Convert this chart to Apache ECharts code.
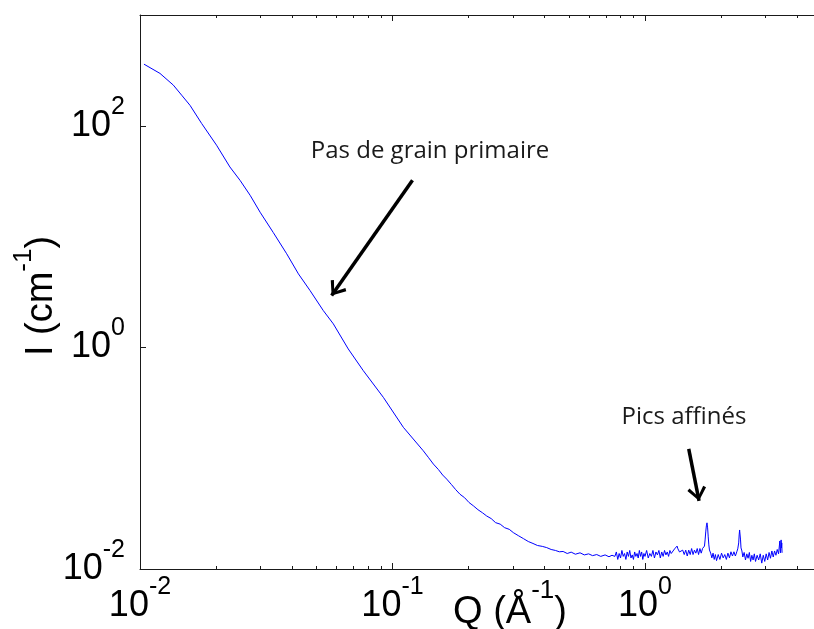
<!DOCTYPE html>
<html><head><meta charset="utf-8">
<script src="https://cdn.jsdelivr.net/npm/echarts@6/dist/echarts.min.js"></script>
<style>html,body{margin:0;padding:0;background:#fff}#c{width:814px;height:629px}</style>
</head><body><div id="c"></div>
<script>
// Q (Å^-1)
const qValues = [
  0.01037, 0.0120, 0.01355, 0.01462, 0.01578, 0.01754, 0.0201, 0.0227, 0.0249, 0.0273,
  0.0299, 0.0337, 0.0381, 0.0424, 0.0471, 0.0532, 0.0583, 0.0668, 0.0766, 0.0920,
  0.1104, 0.1324, 0.139, 0.1452, 0.152, 0.158, 0.164, 0.171, 0.178, 0.185,
  0.193, 0.201, 0.209, 0.218, 0.227, 0.236, 0.246, 0.256, 0.267, 0.278,
  0.290, 0.301, 0.315, 0.330, 0.345, 0.360, 0.375, 0.392, 0.408, 0.425,
  0.442, 0.458, 0.474, 0.492, 0.510, 0.530, 0.553, 0.575, 0.598, 0.620,
  0.644, 0.668, 0.695, 0.72, 0.74,
  0.76, 0.77, 0.78, 0.79, 0.80, 0.81, 0.82, 0.83, 0.84, 0.85,
  0.86, 0.87, 0.88, 0.89, 0.90, 0.91, 0.92, 0.93, 0.94, 0.95,
  0.96, 0.97, 0.98, 0.99, 1.00, 1.015, 1.03, 1.045, 1.06, 1.075,
  1.09, 1.105, 1.12, 1.135, 1.15, 1.165, 1.18, 1.195, 1.21, 1.225,
  1.24, 1.255, 1.27, 1.29, 1.31, 1.33, 1.34, 1.35, 1.37, 1.39,
  1.41, 1.43, 1.45, 1.47, 1.49, 1.51, 1.53, 1.55, 1.57, 1.59,
  1.61, 1.63, 1.65, 1.67, 1.69, 1.71, 1.72, 1.73, 1.74, 1.75,
  1.76, 1.77, 1.78, 1.79, 1.80, 1.82, 1.84, 1.86, 1.88, 1.90,
  1.92, 1.95, 1.98, 2.01, 2.04, 2.07, 2.10, 2.13, 2.16, 2.19,
  2.22, 2.25, 2.28, 2.31, 2.33, 2.35, 2.36, 2.37, 2.38, 2.39,
  2.40, 2.42, 2.44, 2.47, 2.50, 2.53, 2.56, 2.59, 2.62, 2.65,
  2.68, 2.71, 2.74, 2.78, 2.82, 2.86, 2.90, 2.94, 2.98, 3.02,
  3.06, 3.10, 3.14, 3.18, 3.22, 3.26, 3.30, 3.34, 3.38, 3.41,
  3.42, 3.43, 3.44, 3.45, 3.46, 3.47, 3.48, 3.49
];
// I (cm^-1)
const intensity = [
  360, 297, 233, 189, 153, 105, 66.8, 42.5, 32.2, 23.6,
  16.6, 10.9, 7.00, 4.61, 3.27, 2.15, 1.63, 0.968, 0.617, 0.354,
  0.190, 0.1167, 0.1010, 0.0885, 0.0790, 0.0705, 0.0647, 0.0580, 0.0520, 0.0473,
  0.0440, 0.0398, 0.0372, 0.0343, 0.0322, 0.0301, 0.0285, 0.0262, 0.0254, 0.0236,
  0.0228, 0.0213, 0.0200, 0.0188, 0.0177, 0.0170, 0.0163, 0.0160, 0.0156, 0.0150,
  0.0147, 0.0143, 0.0144, 0.0138, 0.0142, 0.0136, 0.0140, 0.0134, 0.0137, 0.0132,
  0.0135, 0.0130, 0.0134, 0.0129, 0.0133,
  0.0130, 0.01425, 0.0122, 0.0138, 0.01257, 0.0147, 0.0130, 0.0138, 0.0122, 0.01425,
  0.0130, 0.0147, 0.01257, 0.0134, 0.0122, 0.01425, 0.0130, 0.0138, 0.01257, 0.0147,
  0.0130, 0.01425, 0.0122, 0.0138, 0.0130, 0.0147, 0.01257, 0.0138, 0.0130, 0.0147,
  0.01257, 0.01425, 0.0134, 0.0147, 0.01257, 0.01425, 0.0130, 0.0147, 0.0134, 0.01425,
  0.0130, 0.0147, 0.0138, 0.01425, 0.0152, 0.0158, 0.0161, 0.0152, 0.01425, 0.0137,
  0.0148, 0.0135, 0.0148, 0.0131, 0.0148, 0.0135, 0.0153, 0.0135, 0.0148, 0.0139,
  0.0153, 0.0135, 0.0153, 0.0139, 0.0153, 0.0152, 0.0161, 0.0183, 0.0216, 0.0245,
  0.0261, 0.0235, 0.0195, 0.0165, 0.01485, 0.0139, 0.0126, 0.0139, 0.0122, 0.0135,
  0.0119, 0.0135, 0.0122, 0.0139, 0.0126, 0.0135, 0.0122, 0.0139, 0.0126, 0.0143,
  0.0131, 0.0143, 0.0131, 0.0143, 0.0152, 0.0172, 0.0203, 0.0225, 0.0221, 0.0183,
  0.0155, 0.01455, 0.01284, 0.0141, 0.01206, 0.0137, 0.0125, 0.0141, 0.0117, 0.0133,
  0.01206, 0.0137, 0.0117, 0.0133, 0.01206, 0.0137, 0.0113, 0.0133, 0.0117, 0.0137,
  0.01206, 0.0141, 0.0125, 0.01455, 0.01284, 0.01455, 0.0133, 0.0150, 0.0137, 0.01425,
  0.0179, 0.0152, 0.0140, 0.0161, 0.0183, 0.0155, 0.0172, 0.0140
];

const xTickValues = [0.01, 0.1, 1];
const xTickExponents = ['-2', '-1', '0'];
const yTickValues = [0.01, 1, 100];
const yTickExponents = ['-2', '0', '2'];

const xTitle = ['Q (Å', '-1', ')'];
const yTitle = ['I (cm', '-1', ')'];

const arrowPrimary = [[0.120, 32.2], [0.0574, 2.94]];
const arrowPeaks = [[1.49, 0.1216], [1.637, 0.0412]];
const notePrimary = 'Pas de grain primaire';
const notePeaks = 'Pics affinés';

const FONT = '"Liberation Sans", Arial, sans-serif';
const NOTE_FONT = '"Open Sans", "Noto Sans", sans-serif';
const AX = '#1a1a1a';

function expFormatter(values, exps) {
  return function (v) {
    for (let i = 0; i < values.length; i++) {
      if (Math.abs(Math.log10(v) - Math.log10(values[i])) < 1e-6) {
        return '{b|10}{s|' + exps[i] + '}';
      }
    }
    return '';
  };
}
const supRich = {
  b: { fontFamily: FONT, fontSize: 36, color: '#000' },
  s: { fontFamily: FONT, fontSize: 25, color: '#000', padding: [0, 0, 38, 0] }
};
const xTitleRich = {
  b: { fontFamily: FONT, fontSize: 38, color: '#000' },
  s: { fontFamily: FONT, fontSize: 26, color: '#000', padding: [0, 0, 44, 0] }
};
const yTitleRich = {
  b: { fontFamily: FONT, fontSize: 38, color: '#000' },
  s: { fontFamily: FONT, fontSize: 26, color: '#000', padding: [0, 0, 36, 0] }
};

function xAxisDef(pos, showLabel) {
  return {
    type: 'log', logBase: 10, min: 0.01, max: 4.67, interval: 1,
    position: pos,
    axisLine: { show: true, onZero: false, lineStyle: { color: AX, width: 1 } },
    axisTick: { show: true, inside: true, length: 6, lineStyle: { color: AX, width: 1 } },
    minorTick: { show: true, splitNumber: 9, length: 3, lineStyle: { color: AX, width: 1 } },
    splitLine: { show: false },
    minorSplitLine: { show: false },
    axisLabel: {
      show: showLabel, margin: 6, showMaxLabel: false,
      formatter: expFormatter(xTickValues, xTickExponents),
      rich: supRich
    }
  };
}

const chart = echarts.init(document.getElementById('c'), null, { renderer: 'canvas' });
const arrowSymbol = 'path://M0,-14 L0.001,-14 Z M0,0 L9.5,12 L7,14 L0,4.5 L-7,14 L-9.5,12 Z';

chart.setOption({
  animation: false,
  backgroundColor: '#fff',
  grid: { left: 140, top: 15, right: 0, bottom: 60, containLabel: false },
  xAxis: [xAxisDef('bottom', true), xAxisDef('top', false)],
  yAxis: [{
    type: 'log', logBase: 10, min: 0.01, max: 1000, interval: 2,
    position: 'left',
    axisLine: { show: true, onZero: false, lineStyle: { color: AX, width: 1 } },
    axisTick: { show: true, inside: true, length: 6, lineStyle: { color: AX, width: 1 } },
    splitLine: { show: false },
    axisLabel: {
      margin: 15, showMaxLabel: false,
      formatter: expFormatter(yTickValues, yTickExponents),
      rich: supRich
    }
  }],
  series: [{
    type: 'line',
    xAxisIndex: 0, yAxisIndex: 0,
    data: qValues.map((q, i) => [q, intensity[i]]),
    showSymbol: false,
    symbol: 'none',
    lineStyle: { color: '#0000ff', width: 1 },
    itemStyle: { color: '#0000ff' },
    markLine: {
      silent: true,
      animation: false,
      symbol: ['none', arrowSymbol],
      symbolSize: [19, 28],
      label: { show: false },
      lineStyle: { color: '#000', width: 3.5, type: 'solid' },
      emphasis: { disabled: true },
      data: [
        [{ coord: arrowPrimary[0] }, { coord: arrowPrimary[1] }],
        [{ coord: arrowPeaks[0] }, { coord: arrowPeaks[1] }]
      ]
    }
  }],
  graphic: [
    {
      type: 'text', x: 430, y: 151, silent: true,
      style: { text: notePrimary, font: '24px ' + NOTE_FONT, fill: '#1a1a1a', align: 'center', verticalAlign: 'middle' }
    },
    {
      type: 'text', x: 684, y: 417, silent: true,
      style: { text: notePeaks, font: '24px ' + NOTE_FONT, fill: '#1a1a1a', align: 'center', verticalAlign: 'middle' }
    },
    {
      type: 'text', x: 510, y: 613, silent: true,
      style: {
        text: '{b|' + xTitle[0] + '}{s|' + xTitle[1] + '}{b|' + xTitle[2] + '}',
        align: 'center', verticalAlign: 'middle',
        rich: xTitleRich
      }
    },
    {
      type: 'text', x: 42, y: 296, rotation: Math.PI / 2, silent: true,
      style: {
        text: '{b|' + yTitle[0] + '}{s|' + yTitle[1] + '}{b|' + yTitle[2] + '}',
        align: 'center', verticalAlign: 'middle',
        rich: yTitleRich
      }
    }
  ]
});
</script>
</body></html>
